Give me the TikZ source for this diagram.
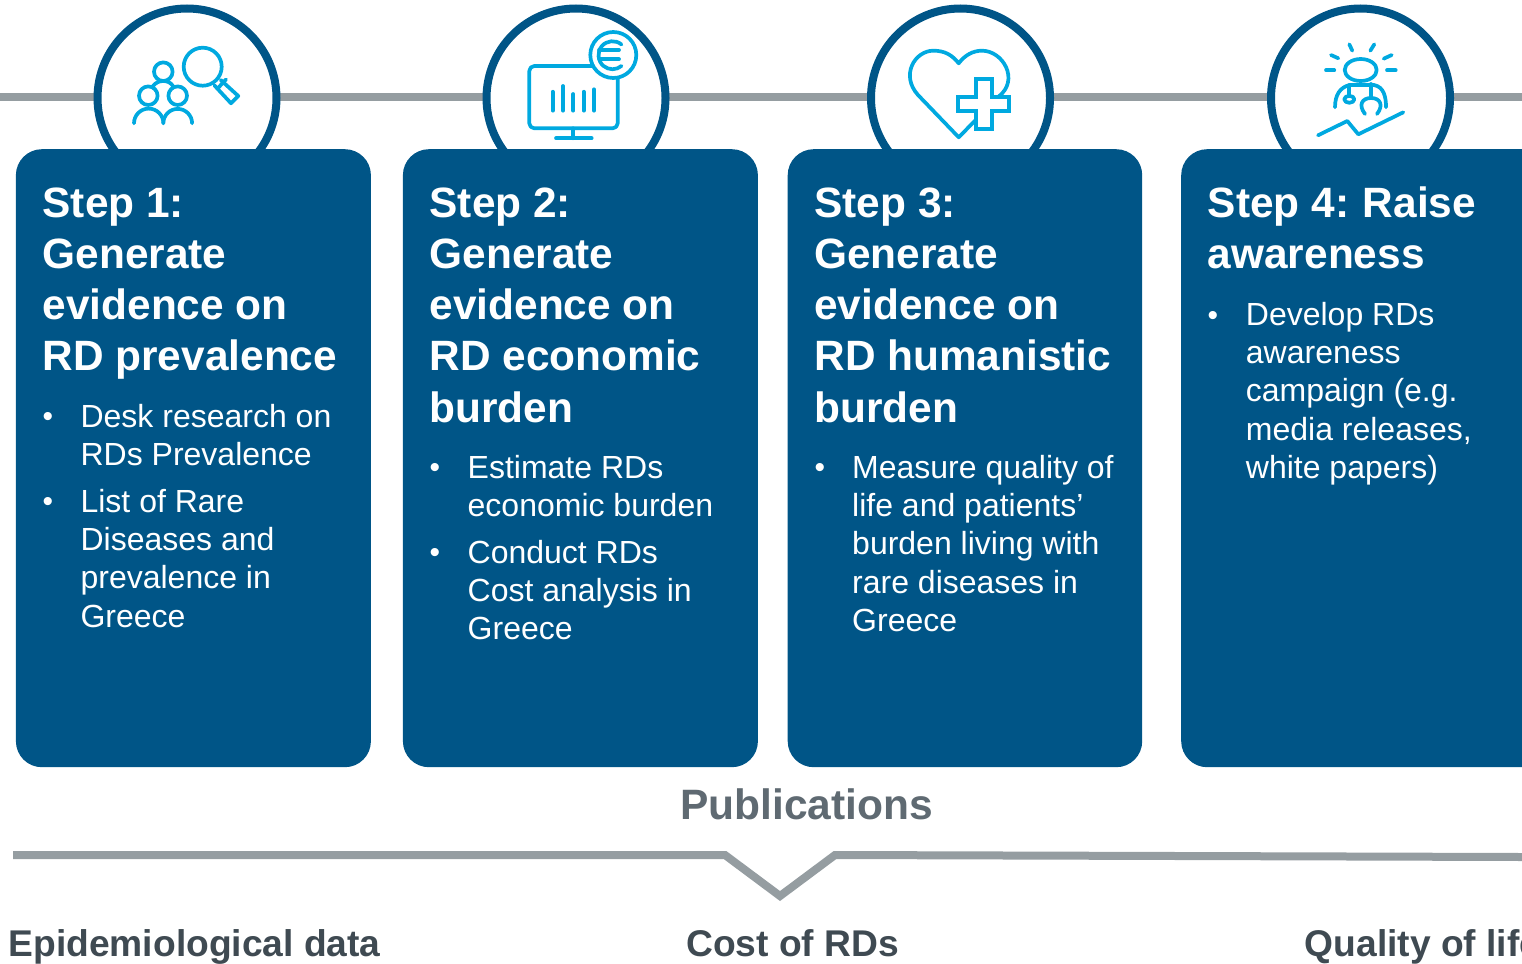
\documentclass[tikz,border=0pt]{standalone}
\usepackage{fontspec}
\setmainfont{Liberation Sans}
\definecolor{navy}{HTML}{005587}
\definecolor{sky}{HTML}{00A9E0}
\definecolor{rail}{HTML}{959DA1}
\definecolor{slatetext}{HTML}{5F6A72}
\definecolor{darktext}{HTML}{3F4A52}
\tikzset{
 x=1pt,y=-1pt,
 cardbox/.style={draw=none,fill=navy,rounded corners=26pt,anchor=north west,inner sep=0pt,minimum height=618pt},
 ring/.style={circle,draw=navy,line width=8pt,fill=white,minimum size=179pt,inner sep=0pt},
 railline/.style={draw=rail,line width=8pt},
 icon/.style={draw=sky,line width=3.7pt,line cap=round,line join=round},
 head/.style={anchor=north west,inner sep=0pt,align=left,text=white,font=\bfseries\fontsize{42.4}{51.2}\selectfont},
 item/.style={anchor=north west,inner sep=0pt,align=left,text=white,font=\fontsize{32}{38.3}\selectfont},
 dot/.style={anchor=base west,inner sep=0pt,text=white,font=\fontsize{30}{34}\selectfont},
 caption/.style={anchor=base west,inner sep=0pt,text=darktext,font=\bfseries\fontsize{37.2}{40}\selectfont},
}
\begin{document}
\begin{tikzpicture}
\useasboundingbox (0,0) rectangle (1522,963);
\clip (0,0) rectangle (1522,963);
\coordinate (railL) at (0,97);
\coordinate (railR) at (1522,97);
\draw[railline] (railL) -- (railR);
\node[ring] (r1) at (187,98) {};
\node[ring] (r2) at (576,98) {};
\node[ring] (r3) at (960.5,98) {};
\node[ring] (r4) at (1360.5,98) {};
\node[cardbox,minimum width=355pt] (c1) at (15.7,149) {};
\node[cardbox,minimum width=355pt] (c2) at (402.7,149) {};
\node[cardbox,minimum width=354.5pt] (c3) at (787.5,149) {};
\node[cardbox,minimum width=380pt] (c4) at (1181,149) {};
% icon 1
\draw[icon] (163.3,71.7) circle (9.3);
\draw[icon] (148.3,95.7) circle (9.3);
\draw[icon] (177.7,95.7) circle (9.3);
\draw[icon] (134,123.3) arc[start angle=180,end angle=0,radius=14.7,y radius=-14.7];
\draw[icon] (163.3,123.3) arc[start angle=180,end angle=0,radius=14.4,y radius=-14.4];
\draw[icon] (153,86) .. controls (156,82.5) and (159,81) .. (163.3,81) .. controls (167.5,81) and (170.5,82.5) .. (173,86);
\draw[icon] (202.7,66.7) circle (19);
\draw[icon] (220.7,80) -- (238.3,96) -- (231,103.3) -- (214.5,85.5);
\draw[icon] (226,79.5) -- (218.5,87.5);
% icon 2
\draw[icon,rounded corners=5pt] (529.3,66) rectangle (617.7,128.3);
\draw[icon,fill=white] (613.3,55) circle (23);
\draw[icon] (552.7,91.7) -- (552.7,110.7);
\draw[icon] (563,86) -- (563,110.7);
\draw[icon] (573.3,94) -- (573.3,110.7);
\draw[icon] (583.7,91.7) -- (583.7,110.7);
\draw[icon] (594,89.3) -- (594,110.7);
\draw[icon] (573.3,128.3) -- (573.3,138.3);
\draw[icon] (556,138.3) -- (591.7,138.3);
\draw[icon] (621.5,44.5) arc[start angle=-50,end angle=-310,radius=14];
\draw[icon] (599,50) -- (619,50);
\draw[icon] (599,59.3) -- (619,59.3);
% icon 3
\draw[icon,line cap=butt] (975.7,120) -- (958.7,137.3) -- (918,95) .. controls (900,75) and (915,50.7) .. (933.3,50.7) .. controls (945,50.7) and (952,55) .. (958.7,63.3) .. controls (965,55) and (973,50.7) .. (982,50.7) .. controls (1003,50.7) and (1020,80) .. (998.5,96.7);
\draw[icon,line join=miter] (976,79) -- (991.7,79) -- (991.7,97.3) -- (1009,97.3) -- (1009,111) -- (991.7,111) -- (991.7,129.3) -- (976,129.3) -- (976,111) -- (958.3,111) -- (958.3,97.3) -- (976,97.3) -- cycle;
% icon 4
\draw[icon] (1360.7,70) ellipse[x radius=16,y radius=11];
\draw[icon] (1326,70.3) -- (1334.3,70.3);
\draw[icon] (1331,55) -- (1338.3,58.3);
\draw[icon] (1349.3,44.3) -- (1352.3,50.7);
\draw[icon] (1374.3,44.3) -- (1370.3,50.7);
\draw[icon] (1391.7,55) -- (1383.7,58.7);
\draw[icon] (1387,70.3) -- (1395.7,70.3);
\draw[icon] (1335,107.3) .. controls (1335,95) and (1340,87) .. (1350,85) -- (1374,85) .. controls (1384,87) and (1386,97) .. (1386,107.3);
\draw[icon] (1349.3,85) -- (1349.3,95);
\draw[icon] (1349.3,99.3) ellipse[x radius=5,y radius=3.5];
\draw[icon] (1371,84) -- (1371,98);
\draw[icon] (1365,114) .. controls (1358,105) and (1362,98) .. (1371,98) .. controls (1380,98) and (1384,105) .. (1377,114);
\draw[icon] (1318,135.3) -- (1347.3,121) -- (1358.3,134.3) -- (1403.3,112.3);
% card 1
\node[head] (h1) at (42.4,187.5) {Step 1:\\Generate\\evidence on\\RD prevalence};
\node[dot] (d11) at (42.3,426) {•};
\node[item] (t11) at (80.4,404) {Desk research on\\RDs Prevalence};
\node[dot] (d12) at (42.3,511) {•};
\node[item] (t12) at (80.4,489) {List of Rare\\Diseases and\\prevalence in\\Greece};
% card 2
\node[head] (h2) at (429.4,187.5) {Step 2:\\Generate\\evidence on\\RD economic\\burden};
\node[dot] (d21) at (429.3,477) {•};
\node[item] (t21) at (467.5,455) {Estimate RDs\\economic burden};
\node[dot] (d22) at (429.3,562) {•};
\node[item] (t22) at (467.5,540) {Conduct RDs\\Cost analysis in\\Greece};
% card 3
\node[head] (h3) at (814.2,187.5) {Step 3:\\Generate\\evidence on\\RD humanistic\\burden};
\node[dot] (d31) at (814.3,477) {•};
\node[item] (t31) at (852,455) {Measure quality of\\life and patients’\\burden living with\\rare diseases in\\Greece};
% card 4
\node[head] (h4) at (1207.6,186.5) {Step 4:\hspace{-2pt} Raise\\awareness};
\node[dot] (d41) at (1207.3,325) {•};
\node[item] (t41) at (1245.7,302) {Develop RDs\\awareness\\campaign (e.g.\\media releases,\\white papers)};
% bottom
\node[anchor=base,inner sep=0pt,text=slatetext,font=\bfseries\fontsize{42.5}{48}\selectfont] (pub) at (806.7,819) {Publications};
\coordinate (b0) at (13,855);
\coordinate (b1) at (725,855);
\coordinate (b2) at (780,896);
\coordinate (b3) at (835,855);
\coordinate (b4) at (1522,857);
\draw[railline,line join=miter] (b0) -- (b1) -- (b2) -- (b3) -- (b4);
\node[caption] (e1) at (8.4,956) {Epidemiological data};
\node[caption] (e2) at (686,956) {Cost of RDs};
\node[caption] (e3) at (1304.5,956) {Quality of life};
\end{tikzpicture}
\end{document}
